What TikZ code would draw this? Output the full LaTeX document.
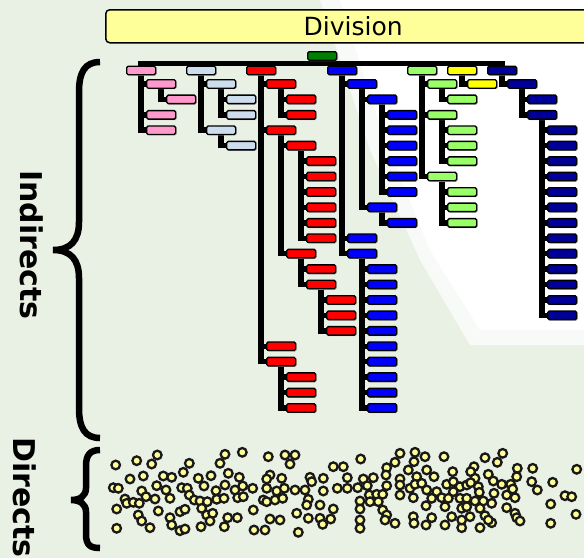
\documentclass[tikz,border=0pt]{standalone}
\usepackage{fontspec}
\setmainfont{DejaVu Sans}
\pgfdeclarelayer{bgl}
\pgfdeclarelayer{cnl}
\pgfsetlayers{bgl,cnl,main}
\definecolor{bgg}{RGB}{233,240,228}
\definecolor{divy}{RGB}{255,255,153}
\definecolor{cgreen}{RGB}{0,128,0}
\definecolor{cpink}{RGB}{255,153,204}
\definecolor{clblue}{RGB}{204,221,238}
\definecolor{cred}{RGB}{255,0,0}
\definecolor{cblue}{RGB}{0,0,255}
\definecolor{clgreen}{RGB}{153,255,102}
\definecolor{cyellow}{RGB}{255,255,0}
\definecolor{cnavy}{RGB}{0,0,153}
\definecolor{dotyel}{RGB}{255,255,153}
\newcommand\bx[4]{\node[box,fill=#2] (#1) at ({#3},{79+15.43*((#4)-1)}) {};}
\newcommand\cn[2]{\draw[conn] (#1.south) |- (#2.west);}
\begin{document}
\begin{tikzpicture}[x=1pt,y=-1pt,
  box/.style={draw=black, line width=1.4pt, rounded corners=1.5pt,
    minimum width=29pt, minimum height=8.5pt, inner sep=0pt, anchor=north west,
    preaction={fill=black!30, transform canvas={xshift=1pt,yshift=-1pt}}},
  conn/.style={line width=5.5pt, draw=black},
  dotc/.style={fill=dotyel, draw=black!90, line width=2.3pt},
  divbox/.style={draw=black, line width=1.5pt, rounded corners=4pt, fill=divy,
    minimum width=495pt, minimum height=33pt, inner sep=0pt, anchor=north west,
    font=\fontsize{25}{25}\selectfont},
  sidelab/.style={rotate=-90, anchor=base west, inner sep=0pt,
    font=\bfseries\fontsize{30}{30}\selectfont},
  brace/.style={line width=6.5pt, draw=black}]
\useasboundingbox (0,0) rectangle (584,558);
\begin{pgfonlayer}{bgl}
\fill[bgg] (0,0) rectangle (584,558);
\fill[white!70!bgg] (320,0) -- (584,0) -- (584,345) -- (470,345) -- (420,260) -- (370,150) -- cycle;
\fill[white] (340,0) -- (584,0) -- (584,330) -- (480,330) -- (430,250) -- (385,140) -- cycle;
\end{pgfonlayer}

% title
\node[divbox] (div) at (105,9) {Division};

% root and level 1
\node[box,fill=cgreen] (root) at (307,51) {};
\node[box,fill=cpink] (p0) at (126,65.5) {};
\node[box,fill=clblue] (b0) at (186,65.5) {};
\node[box,fill=cred] (r0) at (246,65.5) {};
\node[box,fill=cblue] (u0) at (327,65.5) {};
\node[box,fill=clgreen] (g0) at (407,65.5) {};
\node[box,fill=cyellow] (y0) at (447,65.5) {};
\node[box,fill=cnavy] (n0) at (487,65.5) {};

% pink
\bx{p1}{cpink}{146}{1}
\bx{p2}{cpink}{166}{2}
\bx{p3}{cpink}{146}{3}
\bx{p4}{cpink}{146}{4}
% light blue
\bx{b1}{clblue}{206}{1}
\bx{b2}{clblue}{226}{2}
\bx{b3}{clblue}{226}{3}
\bx{b4}{clblue}{206}{4}
\bx{b5}{clblue}{226}{5}
% red
\bx{rA}{cred}{266}{1}
\bx{rA1}{cred}{286}{2}
\bx{rA2}{cred}{286}{3}
\bx{rB}{cred}{266}{4}
\bx{rB1}{cred}{286}{5}
\foreach \k in {6,...,11} {\bx{rBa\k}{cred}{306}{\k}}
\bx{rB2}{cred}{286}{12}
\bx{rB2a}{cred}{306}{13}
\bx{rB2b}{cred}{306}{14}
\foreach \k in {15,16,17} {\bx{rBb\k}{cred}{326}{\k}}
\bx{rC}{cred}{266}{18}
\bx{rD}{cred}{266}{19}
\foreach \k in {20,21,22} {\bx{rDa\k}{cred}{286}{\k}}
% blue
\bx{uA}{cblue}{347}{1}
\bx{uA1}{cblue}{367}{2}
\foreach \k in {3,...,8} {\bx{uAa\k}{cblue}{387}{\k}}
\bx{uA2}{cblue}{367}{9}
\bx{uA2a}{cblue}{387}{10}
\bx{uB}{cblue}{347}{11}
\bx{uC}{cblue}{347}{12}
\foreach \k in {13,...,22} {\bx{uCa\k}{cblue}{367}{\k}}
% light green
\bx{gA}{clgreen}{427}{1}
\bx{gA1}{clgreen}{447}{2}
\bx{gB}{clgreen}{427}{3}
\foreach \k in {4,5,6} {\bx{gBa\k}{clgreen}{447}{\k}}
\bx{gC}{clgreen}{427}{7}
\foreach \k in {8,9,10} {\bx{gCa\k}{clgreen}{447}{\k}}
% yellow
\bx{y1}{cyellow}{467}{1}
% navy
\bx{nA}{cnavy}{507}{1}
\bx{nA1}{cnavy}{527}{2}
\bx{nA2}{cnavy}{527}{3}
\foreach \k in {4,...,16} {\bx{nAa\k}{cnavy}{547}{\k}}

% connectors
\begin{pgfonlayer}{cnl}
\path (root.south) ++(0,2.5) coordinate (bar);
\draw[conn, line cap=rect] (bar -| p0) -- (bar -| n0);
\foreach \n in {p0,b0,r0,u0,g0,y0,n0} {\draw[conn] (bar -| \n) -- (\n.north);}
\cn{p0}{p1} \cn{p0}{p3} \cn{p0}{p4} \cn{p1}{p2}
\cn{b0}{b1} \cn{b0}{b4} \cn{b1}{b2} \cn{b1}{b3} \cn{b4}{b5}
\cn{r0}{rA} \cn{r0}{rB} \cn{r0}{rC} \cn{r0}{rD}
\cn{rA}{rA1} \cn{rA}{rA2} \cn{rB}{rB1} \cn{rB}{rB2}
\foreach \k in {6,...,11} {\cn{rB1}{rBa\k}}
\cn{rB2}{rB2a} \cn{rB2}{rB2b}
\foreach \k in {15,16,17} {\cn{rB2b}{rBb\k}}
\foreach \k in {20,21,22} {\cn{rD}{rDa\k}}
\cn{u0}{uA} \cn{u0}{uB} \cn{u0}{uC}
\cn{uA}{uA1} \cn{uA}{uA2}
\foreach \k in {3,...,8} {\cn{uA1}{uAa\k}}
\cn{uA2}{uA2a}
\foreach \k in {13,...,22} {\cn{uC}{uCa\k}}
\cn{g0}{gA} \cn{g0}{gB} \cn{g0}{gC} \cn{gA}{gA1}
\foreach \k in {4,5,6} {\cn{gB}{gBa\k}}
\foreach \k in {8,9,10} {\cn{gC}{gCa\k}}
\cn{y0}{y1}
\cn{n0}{nA} \cn{nA}{nA1} \cn{nA}{nA2}
\foreach \k in {4,...,16} {\cn{nA2}{nAa\k}}
\end{pgfonlayer}

% braces and side labels
\draw[brace] (100,62) .. controls (85,62) and (79,72) .. (79,92) -- (79,222)
  .. controls (79,240) and (71,250) .. (53,250)
  .. controls (71,250) and (79,260) .. (79,278) -- (79,408)
  .. controls (79,428) and (85,438) .. (100,438);
\draw[brace] (100,450) .. controls (90,450) and (86,455) .. (86,466) -- (86,488)
  .. controls (86,496) and (80,500) .. (71,500)
  .. controls (80,500) and (86,504) .. (86,512) -- (86,534)
  .. controls (86,545) and (90,548) .. (100,548);
\node[sidelab] (ind) at (20,170) {Indirects};
\node[sidelab] (dir) at (13,437) {Directs};

% directs (dots)
\foreach \x/\y in {
115.7/465,136.7/460.7,157.3/455,151.7/464,189.3/463.3,183.3/472.3,225/454.3,242.3/452.3,220/463.3,
143.3/476,130/479,163.3/476,171.7/477.3,198.3/478.3,211/475.7,228.3/473.3,239.3/477.3,
113.3/487.7,118.3/488.3,141.7/491,156.7/485.7,166/490,181.7/487.7,187.3/488.3,204/486,216/490.7,
225/485,235/490,242.7/486,252.7/488.3,146/496.7,125/499,126.7/503.3,133.3/502.3,139.3/503.3,
155/499,170/498.3,189.3/495,194.3/500,200/501,207.3/501.7,216.7/499.3,224/498.3,237.7/497.7,
243.3/496.7,116.7/509,158.3/511,180/511.7,185/509.3,201.7/508.3,138.3/515,141.7/521,170/517.7,
206.7/515,212.7/513.3,210/521,227.7/517.7,237.3/517.7,253.3/510,171.7/525,150/527.7,116.7/528.3,
180/530.7,185/529,201/526.7,224.3/526.7,254/530,
268.3/456.7,285/455,295/455,290/464,333.3/466.7,343.3/466.7,360.7/459,400/453.3,415/452.3,
386.7/467.7,395/462.3,408.3/470,414/461.7,270/475,281.7/478.3,266.7/479,310/477.3,323.3/478.3,
347.3/477.7,363.3/479,373.3/477.7,386/475,400/479,416.7/476.7,266.7/488.3,276.7/491,284.3/488.3,
295/490,305/490,311.7/481.7,323.3/491,337.3/488.3,347.3/488.3,357.7/487.7,367.3/485.7,386.7/485.7,
400/485,410/488.3,415/484.3,263.3/500,266.7/501.7,275/500,282.7/498.3,308.3/499.3,306.7/505,
320/505,369.3/495,376.7/494.3,382.7/494.3,370/501.7,378.3/501.7,360/501,400/495,413.3/497.7,
333.3/509,360/509,382.7/510,270/519,280/520,296.7/513.3,308.3/518.3,320/518.3,330.7/519,
322.7/524.3,360/520,386.7/515,385/520,395/523.3,413.3/516.7,414/523.3,265/530,298.3/532.3,360/528.3,
425/456.7,444/456.7,485/457.7,502.7/453.3,497.3/462.3,426.7/470,452.7/471.7,474/466.7,470.7/471.7,
517.3/468.3,532.7/468.3,576.7/469.3,434/476.7,475/478.3,488.3/474.3,516.7/476.7,493.3/481,
446.7/484.3,453.3/481.7,460/486.7,466.7/485,470.7/482.7,478.3/486.7,501.7/484.3,510.7/484.3,
531.7/481.7,552.7/482.3,421.7/483.3,426.7/490,436.7/491.7,453.3/491.7,479.3/492.3,494/493.3,
506.7/495,512.7/489,537.3/490,431.7/498.3,441.7/497.7,448.3/498.3,460/498.3,466.7/498.3,475/501,
483.3/501,491.7/503.3,515/497.7,565/495.7,571.7/496.7,426/505.7,445/506.7,461.7/508.3,466.7/506.7,
480/508.3,506.7/507.7,550.7/504,431.7/517.7,451.7/516.7,470/516.7,485/515.7,515/513.3,516.7/517.7,
520/521,576/514.3,426/525,445/525,461.7/527.7,480/527.7,491.7/522.7,488.3/520,461.7/520,550.7/523.3}
  {\draw[dotc] (\x,\y) circle[radius=4.3pt];}
\end{tikzpicture}
\end{document}
